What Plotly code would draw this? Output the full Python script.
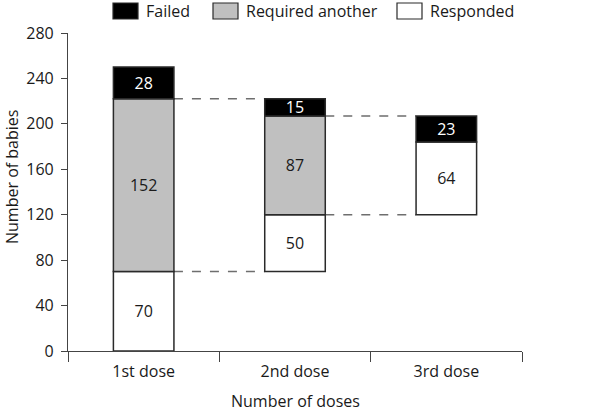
import plotly.graph_objects as go

categories = ["1st dose", "2nd dose", "3rd dose"]
responded = [70, 50, 64]
required_another = [152, 87, None]
failed = [28, 15, 23]
series_names = ["Failed", "Required another", "Responded"]
y_ticks = [0, 40, 80, 120, 160, 200, 240, 280]

# bases: each dose starts where the previous dose's responders end
bases = [0]
for i in range(1, len(categories)):
    bases.append(bases[i - 1] + responded[i - 1])
req_base = [bases[i] + responded[i] if required_another[i] is not None else None for i in range(3)]
fail_base = [bases[i] + responded[i] + (required_another[i] or 0) for i in range(3)]

FONT = "Open Sans, Noto Sans, sans-serif"
TXT = "#1a1a1a"
GRAY = "#c0c0c0"
EDGE = "#2a2a2a"
W = 0.4

fig = go.Figure()
common = dict(width=W, marker_line=dict(color=EDGE, width=1.5), textposition="inside",
              insidetextanchor="middle", texttemplate="%{y}", textangle=0, showlegend=False,
              hoverinfo="skip")
fig.add_trace(go.Bar(x=categories, y=responded, base=bases, marker_color="white",
                     textfont=dict(color=TXT, size=16, family=FONT), name=series_names[2], **common))
fig.add_trace(go.Bar(x=categories, y=required_another, base=req_base, marker_color=GRAY,
                     textfont=dict(color=TXT, size=16, family=FONT), name=series_names[1], **common))
fig.add_trace(go.Bar(x=categories, y=failed, base=fail_base, marker_color="black",
                     textfont=dict(color="white", size=16, family=FONT), name=series_names[0], **common))

# dashed connectors between consecutive doses
shapes = []
for i in range(len(categories) - 1):
    x0 = i + W / 2
    x1 = i + 1 - W / 2
    y_low = bases[i] + responded[i]
    y_high = bases[i] + responded[i] + required_another[i]
    for yv in (y_low, y_high):
        shapes.append(dict(type="line", xref="x", yref="y", x0=x0, x1=x1, y0=yv, y1=yv,
                           line=dict(color="#6e6e6e", width=1.5, dash="dash"), layer="below"))

# custom legend (paper coords)
L, R, T, B = 68, 84, 33, 62
PW, PH = 606 - L - R, 413 - T - B
def px(xp):
    return (xp - L) / PW
def py(yp):
    return (413 - B - yp) / PH

legend_items = [(series_names[0], "black", 113), (series_names[1], GRAY, 213), (series_names[2], "white", 397)]
annotations = []
for name, col, x0p in legend_items:
    shapes.append(dict(type="rect", xref="paper", yref="paper", x0=px(x0p), x1=px(x0p + 25),
                       y0=py(19), y1=py(3), fillcolor=col, line=dict(color=EDGE, width=1.2)))
    annotations.append(dict(text=name, xref="paper", yref="paper", x=px(x0p + 31), y=py(11),
                            xanchor="left", yanchor="middle", showarrow=False,
                            font=dict(size=16, color=TXT, family=FONT)))

annotations.append(dict(text="Number of doses", xref="paper", yref="paper", x=0.5, y=py(401),
                        xanchor="center", yanchor="middle", showarrow=False,
                        font=dict(size=16, color=TXT, family=FONT)))
annotations.append(dict(text="Number of babies", xref="paper", yref="paper", x=px(12), y=py(177),
                        xanchor="center", yanchor="middle", showarrow=False, textangle=-90,
                        font=dict(size=16, color=TXT, family=FONT)))

fig.update_layout(
    width=606, height=413, margin=dict(l=L, r=R, t=T, b=B),
    barmode="overlay", plot_bgcolor="white", paper_bgcolor="white",
    font=dict(family=FONT, size=16, color=TXT),
    uniformtext=dict(minsize=16, mode="show"),
    shapes=shapes, annotations=annotations,
    xaxis=dict(type="category", showline=True, linecolor="#444", linewidth=1.2,
               ticks="outside", tickson="boundaries", ticklen=10, tickcolor="#444",
               ticklabelstandoff=6,
               showgrid=False, zeroline=False, tickfont=dict(size=16, color=TXT)),
    yaxis=dict(range=[0, 280], tickvals=y_ticks, showline=True, linecolor="#444", linewidth=1.2,
               ticks="outside", ticklen=6, tickcolor="#444", showgrid=False, zeroline=False,
               ticklabelstandoff=4,
               tickfont=dict(size=16, color=TXT)),
)

fig.write_html("out.html", post_script="document.body.style.margin='0';",
               config={"displayModeBar": False})
